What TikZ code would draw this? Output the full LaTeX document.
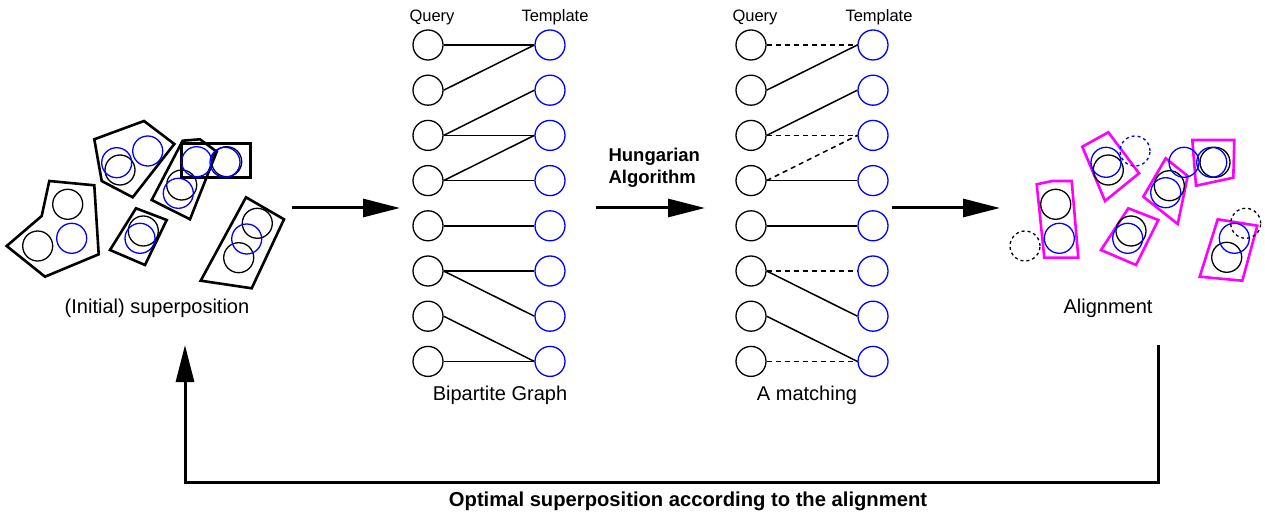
\documentclass[tikz,border=0pt]{standalone}
\usepackage{fontspec}
\setmainfont{Liberation Sans}
\usetikzlibrary{arrows.meta}
\definecolor{alignpink}{RGB}{255,0,255}

\begin{document}
\begin{tikzpicture}[x=1pt,y=-1pt,
    qnode/.style={circle,draw,line width=1.3pt,minimum size=30pt,inner sep=0pt},
    tnode/.style={qnode,draw=blue},
    edge/.style={line width=1.5pt},
    nomatch/.style={edge,dashed,dash pattern=on 5pt off 4pt},
    piece/.style={line width=2.6pt,line join=miter},
    aligned/.style={line width=2.6pt,draw=alignpink},
    atom/.style={line width=1.3pt},
    bigarrow/.style={line width=3pt,-{Triangle[length=37pt,width=18pt]}},
    lbl/.style={font=\fontsize{20}{24}\selectfont},
    head/.style={font=\fontsize{16.5}{19}\selectfont}]
\useasboundingbox (0,0) rectangle (1265,518);

% (Initial) superposition
\draw[piece] (49.3,181) -- (94.3,185.3) -- (98.7,254.3) -- (45,276.7) -- (6.7,246) -- (41.7,216) -- cycle;
\draw[piece] (94.3,139.3) -- (144,121) -- (174.3,144) -- (132.7,197.3) -- (101.7,181) -- cycle;
\draw[piece] (182.7,140.7) -- (200,139.3) -- (216.7,151.7) -- (190,219.3) -- (151.7,200) -- cycle;
\draw[piece] (181.7,143.3) rectangle (250.7,177.7);
\draw[piece] (136,208.3) -- (166.7,220) -- (145,265) -- (110,250) -- cycle;
\draw[piece] (246,197.3) -- (284,219.3) -- (251.7,288.3) -- (200.7,280.7) -- cycle;
\foreach \x/\y in {67.7/204.3, 37.7/246, 120/170, 181.7/185, 226.7/161.7, 143.3/231, 257.3/223.3, 238.7/257.7}
    \draw[atom] (\x,\y) circle (15pt);
\foreach \x/\y in {71.7/238.3, 116.7/162.7, 147.7/151, 178.3/193.3, 196.7/161.7, 225/162.3, 140/238.3, 246.7/239}
    \draw[atom,blue] (\x,\y) circle (15pt);
\node[lbl] (suplbl) at (157,308) {(Initial) superposition};

% Bipartite graph
\foreach \i in {0,...,7} {
    \node[qnode] (bq\i) at (428,45+45.2*\i) {};
    \node[tnode] (bt\i) at (550,45+45.2*\i) {};
}
\node[head] (bqlbl) at (432,17) {Query};
\node[head] (btlbl) at (555,17) {Template};
\foreach \a/\b in {0/0, 1/0, 2/1, 2/2, 3/2, 3/3, 4/4, 5/5, 5/6, 6/7, 7/7}
    \draw[edge] (bq\a.east) -- (bt\b.west);
\node[lbl] (bglbl) at (500,395) {Bipartite Graph};

% A matching
\foreach \i in {0,...,7} {
    \node[qnode] (mq\i) at (751,45+45.2*\i) {};
    \node[tnode] (mt\i) at (873,45+45.2*\i) {};
}
\node[head] (mqlbl) at (755,17) {Query};
\node[head] (mtlbl) at (879,17) {Template};
\foreach \a/\b in {1/0, 2/1, 3/3, 4/4, 5/6, 6/7}
    \draw[edge] (mq\a.east) -- (mt\b.west);
\foreach \a/\b in {0/0, 2/2, 3/2, 5/5, 7/7}
    \draw[nomatch] (mq\a.east) -- (mt\b.west);
\node[lbl] (mlbl) at (807,395) {A matching};

% Alignment
\draw[aligned] (1036.7,184.3) -- (1052.3,181) -- (1071.7,181) -- (1078.3,257.7) -- (1044.3,257.7) -- cycle;
\draw[aligned] (1082.3,146.7) -- (1108.3,132.3) -- (1139,173.3) -- (1105,201) -- cycle;
\draw[aligned] (1143.3,196.7) -- (1165.7,158.3) -- (1187.7,176) -- (1177.7,224) -- cycle;
\draw[aligned] (1192.3,140) -- (1234.3,140) -- (1233.3,177.7) -- (1196,185.7) -- cycle;
\draw[aligned] (1128.3,208.3) -- (1158.3,220) -- (1136,265) -- (1101,250) -- cycle;
\draw[aligned] (1217.7,219.3) -- (1257.3,225.7) -- (1242.3,280.7) -- (1199.7,276.7) -- cycle;
\foreach \x/\y in {1055.7/204.3, 1108.3/170, 1169.3/185.7, 1215/162.3, 1131/231, 1226.7/257.3}
    \draw[atom] (\x,\y) circle (15pt);
\foreach \x/\y in {1059.3/238.3, 1106/162.3, 1165.7/192.7, 1184/162.3, 1211.7/162.3, 1127.7/238.3, 1234.3/238.3}
    \draw[atom,blue] (\x,\y) circle (15pt);
\draw[atom,dashed] (1025,246) circle (15pt);
\draw[atom,dashed] (1245.7,223.3) circle (15pt);
\draw[atom,dashed,blue] (1135,151) circle (15pt);
\node[lbl] (allbl) at (1108,308) {Alignment};

% Arrows
\coordinate (a1s) at (292,208);
\coordinate (a1e) at (400,208);
\coordinate (a2s) at (596,208);
\coordinate (a2e) at (705,208);
\coordinate (a3s) at (892,208);
\coordinate (a3e) at (1000,208);
\draw[bigarrow] (a1s) -- (a1e);
\draw[bigarrow] (a2s) -- (a2e);
\draw[bigarrow] (a3s) -- (a3e);
\node[font=\fontsize{18.5}{22}\selectfont\bfseries,align=left,anchor=west] (hung) at (605,168) {Hungarian\\Algorithm};

% Feedback loop
\coordinate (loopstart) at (1158,345);
\coordinate (loopend) at (185,345);
\draw[bigarrow,line join=miter] (loopstart) -- (1158,482) -| (loopend);
\node[font=\fontsize{20.2}{24}\selectfont\bfseries] (looplbl) at (688,501) {Optimal superposition according to the alignment};
\end{tikzpicture}
\end{document}
